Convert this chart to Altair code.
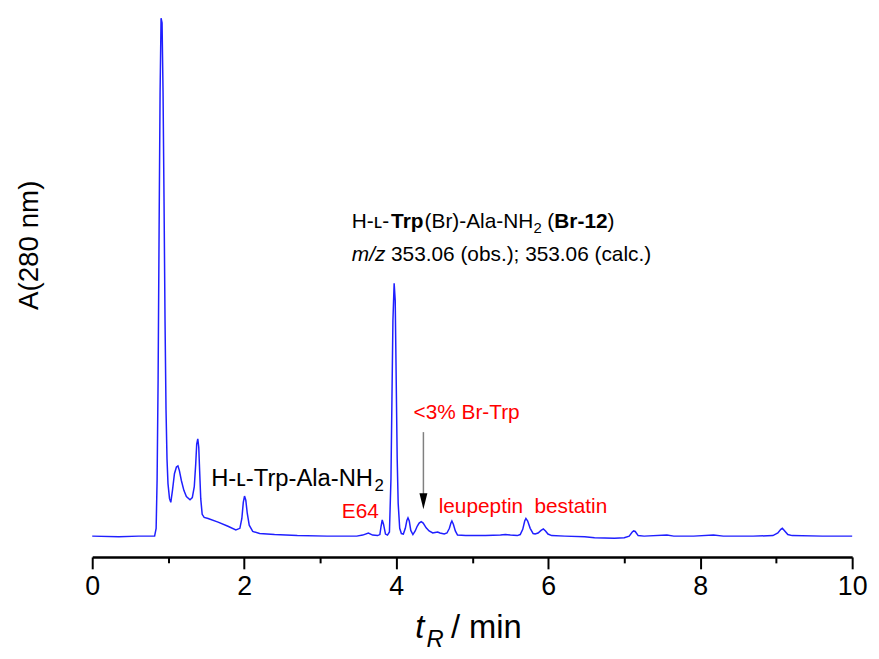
import altair as alt
import pandas as pd

# ---- chromatogram trace ----
t_min = [0.00, 0.35, 0.61, 0.821, 0.841, 0.854, 0.867, 0.880, 0.893, 0.906,
         0.919, 0.932, 0.945, 0.958, 0.971, 0.984, 0.997, 1.017, 1.034, 1.056,
         1.082, 1.108, 1.128, 1.147, 1.173, 1.206, 1.239, 1.287, 1.317, 1.343,
         1.362, 1.375, 1.389, 1.402, 1.415, 1.428, 1.447, 1.473, 1.525, 1.656,
         1.786, 1.890, 1.943, 1.969, 1.988, 2.004, 2.021, 2.040, 2.066, 2.112,
         2.203, 2.399, 2.699, 3.090, 3.481, 3.559, 3.634, 3.690, 3.755, 3.785,
         3.801, 3.816, 3.833, 3.859, 3.885, 3.911, 3.931, 3.944, 3.957, 3.973,
         3.987, 4.000, 4.013, 4.026, 4.046, 4.068, 4.094, 4.120, 4.140, 4.155,
         4.172, 4.192, 4.220, 4.250, 4.276, 4.302, 4.329, 4.355, 4.394, 4.433,
         4.481, 4.511, 4.546, 4.576, 4.632, 4.668, 4.700, 4.720, 4.733, 4.752,
         4.778, 4.807, 4.915, 5.176, 5.372, 5.437, 5.502, 5.593, 5.632, 5.665,
         5.691, 5.707, 5.730, 5.763, 5.802, 5.828, 5.867, 5.906, 5.936, 5.965,
         5.997, 6.046, 6.219, 6.480, 6.610, 6.871, 7.001, 7.066, 7.106, 7.125,
         7.145, 7.184, 7.262, 7.562, 7.653, 7.914, 8.175, 8.305, 8.696, 8.957,
         9.022, 9.061, 9.081, 9.107, 9.153, 9.211, 9.609, 10.00]
absorbance = [0.000, -0.001, 0.000, 0.000, 0.015, 0.110, 0.301, 0.587, 0.853, 0.996,
              0.987, 0.853, 0.644, 0.415, 0.244, 0.149, 0.101, 0.072, 0.065, 0.088,
              0.120, 0.133, 0.135, 0.126, 0.107, 0.088, 0.076, 0.070, 0.074, 0.095,
              0.139, 0.177, 0.187, 0.171, 0.120, 0.072, 0.042, 0.036, 0.034, 0.027,
              0.019, 0.012, 0.015, 0.034, 0.065, 0.077, 0.069, 0.044, 0.021, 0.009,
              0.005, 0.003, 0.001, 0.000, 0.000, 0.002, 0.006, 0.002, 0.001, 0.003,
              0.019, 0.031, 0.023, 0.004, 0.002, 0.008, 0.110, 0.263, 0.415, 0.486,
              0.453, 0.301, 0.149, 0.063, 0.015, 0.005, 0.004, 0.015, 0.030, 0.035,
              0.029, 0.011, 0.003, 0.010, 0.019, 0.025, 0.028, 0.025, 0.016, 0.010,
              0.006, 0.007, 0.008, 0.006, 0.004, 0.006, 0.015, 0.025, 0.029, 0.023,
              0.010, 0.002, 0.001, 0.001, 0.002, 0.003, 0.002, 0.001, 0.003, 0.013,
              0.029, 0.034, 0.029, 0.015, 0.005, 0.004, 0.006, 0.011, 0.014, 0.010,
              0.004, 0.001, 0.000, -0.001, -0.003, -0.004, -0.003, 0.000, 0.008, 0.010,
              0.009, 0.001, 0.000, 0.002, 0.000, 0.000, 0.002, 0.000, 0.000, 0.001,
              0.006, 0.013, 0.015, 0.011, 0.003, 0.001, 0.000, 0.000]

# ---- x-axis ticks ----
tick_values = [0, 1, 2, 3, 4, 5, 6, 7, 8, 9, 10]

# ---- annotations: text segments (t position, A position) ----
ann_text = ["H-ʟ-", "Trp", "(Br)-Ala-NH", "2", "(", "Br-12", ")",
            "m/z", "353.06 (obs.); 353.06 (calc.)",
            "H-ʟ-Trp-Ala-NH", "2",
            "E64", "<3% Br-Trp", "leupeptin", "bestatin",
            "t", "R", "/ min"]
ann_t = [3.416, 3.933, 4.374, 5.808, 5.987, 6.081, 6.781,
         3.416, 3.932,
         1.565, 3.716,
         3.285, 4.228, 4.559, 5.819,
         4.250, 4.400, 4.720]
ann_A = [0.592, 0.592, 0.592, 0.582, 0.592, 0.592, 0.592,
         0.530, 0.530,
         0.097, 0.087,
         0.034, 0.226, 0.044, 0.044,
         -0.196, -0.213, -0.196]
ann_group = ["normal", "bold", "normal", "normal", "normal", "bold", "normal",
             "italic", "normal",
             "normal", "normal",
             "red", "red", "red", "red",
             "italic", "italic", "normal"]
ann_size = [21, 21, 21, 15, 21, 21, 21,
            21, 21,
            24, 17,
            21, 21, 21, 21,
            33, 24, 33]

# ---- arrow (<3% Br-Trp) ----
arrow_t = [4.358]
arrow_top = [0.200]
arrow_bottom = [0.078]
arrow_head = [0.067]

trace = pd.DataFrame({"t": t_min, "A": absorbance})
ann = pd.DataFrame({"text": ann_text, "t": ann_t, "A": ann_A,
                    "group": ann_group, "size": ann_size})
arrow = pd.DataFrame({"t": arrow_t, "top": arrow_top,
                      "bottom": arrow_bottom, "head": arrow_head})

x_scale = alt.Scale(domain=[0, 10], nice=False, zero=False)
y_scale = alt.Scale(domain=[-0.04, 1.006], nice=False, zero=False)

FONT = "Liberation Sans, Arial, sans-serif"

x_axis = alt.Axis(
    values=tick_values,
    format="d",
    labelExpr="datum.value % 2 == 0 ? datum.label : ''",
    tickSize={"condition": {"test": "datum.value % 2 == 0", "value": 12}, "value": 6},
    tickWidth=2, tickColor="black",
    domainColor="black", domainWidth=2.5,
    labelFont=FONT, labelFontSize=27, labelColor="black", labelPadding=5,
    labelFlush=False, grid=False, title=None,
)
y_axis = alt.Axis(
    domain=False, ticks=False, labels=False, grid=False,
    title="A(280 nm)", titleFont=FONT, titleFontSize=28, titleFontWeight="normal",
    titleColor="black", titleAngle=270, titleAlign="center", titleBaseline="middle",
    titleX=-63, titleY=234,
)

line = alt.Chart(trace).mark_line(color="#1f1fff", strokeWidth=1.5).encode(
    x=alt.X("t:Q", scale=x_scale, axis=x_axis),
    y=alt.Y("A:Q", scale=y_scale, axis=y_axis),
)


def text_layer(group, color, weight="normal", style="normal"):
    return alt.Chart(ann).transform_filter(
        alt.datum.group == group
    ).mark_text(
        align="left", baseline="alphabetic", font=FONT, color=color,
        fontWeight=weight, fontStyle=style,
    ).encode(
        x=alt.X("t:Q", scale=x_scale),
        y=alt.Y("A:Q", scale=y_scale),
        text="text:N",
        size=alt.Size("size:Q", scale=None, legend=None),
    )


t_normal = text_layer("normal", "black")
t_bold = text_layer("bold", "black", weight="bold")
t_italic = text_layer("italic", "black", style="italic")
t_red = text_layer("red", "#ff0000")

shaft = alt.Chart(arrow).mark_rule(color="#808080", strokeWidth=1.5).encode(
    x=alt.X("t:Q", scale=x_scale),
    y=alt.Y("top:Q", scale=y_scale),
    y2="bottom:Q",
)
head = alt.Chart(arrow).mark_point(
    shape="M-0.5,-1L0.5,-1L0,1Z", filled=True, color="black", opacity=1, size=256,
).encode(
    x=alt.X("t:Q", scale=x_scale),
    y=alt.Y("head:Q", scale=y_scale),
)

chart = alt.layer(line, shaft, head, t_normal, t_bold, t_italic, t_red).properties(
    width=767, height=549,
    autosize=alt.AutoSizeParams(type="none"),
    padding={"left": 85, "top": 2, "right": 19, "bottom": 100},
).configure_view(stroke="transparent", strokeWidth=0)

chart.save("out.html", embed_options={"renderer": "svg", "actions": False})
